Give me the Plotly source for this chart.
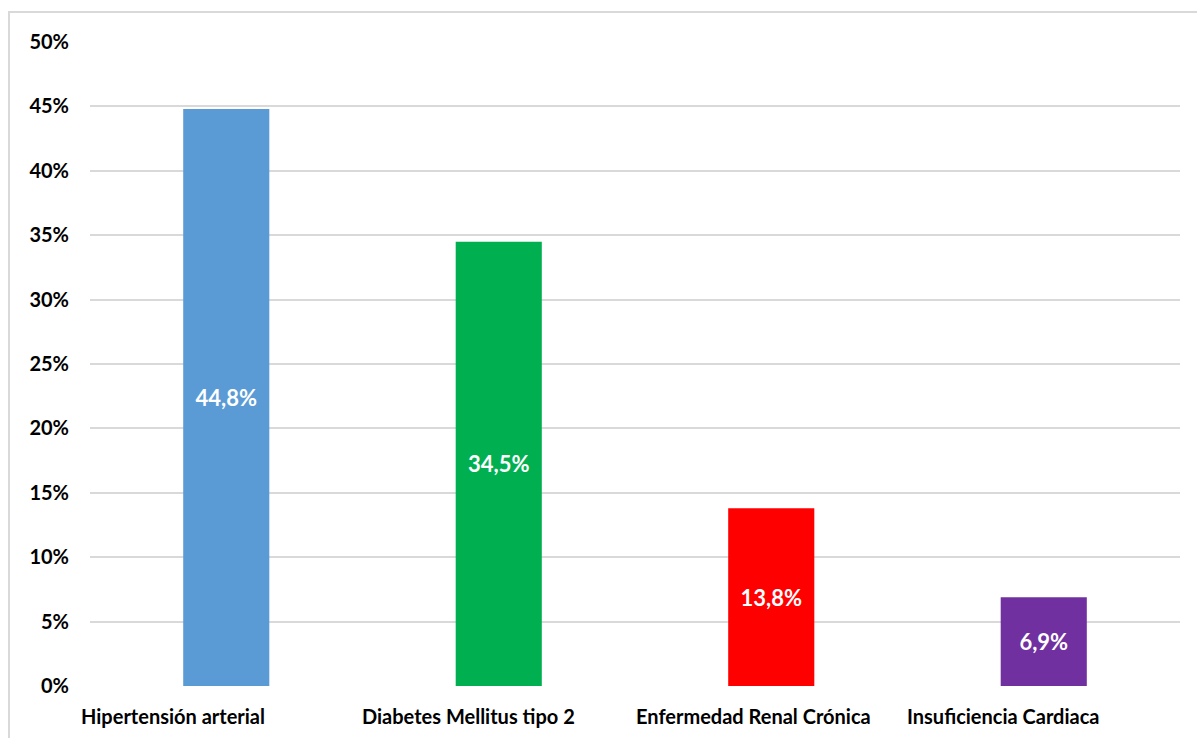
import plotly.graph_objects as go

# Comorbidity prevalence (%)
categories = ["Hipertensión arterial", "Diabetes Mellitus tipo 2",
              "Enfermedad Renal Crónica", "Insuficiencia Cardiaca"]
values = [44.8, 34.5, 13.8, 6.9]
colors = ["#5B9BD5", "#00B050", "#FF0000", "#7030A0"]
y_ticks = [0, 5, 10, 15, 20, 25, 30, 35, 40, 45, 50]
y_tick_labels = [f"{v}%" for v in y_ticks]

FONT = "Lato, 'Open Sans', sans-serif"

labels = [f"{v:.1f}".replace(".", ",") + "%" for v in values]

fig = go.Figure(
    go.Bar(
        x=categories,
        y=values,
        marker=dict(color=colors, line=dict(width=0)),
        text=labels,
        textposition="inside",
        insidetextanchor="middle",
        textangle=0,
        textfont=dict(family=FONT, size=22, color="white", weight="bold"),
        width=0.316,
        hoverinfo="skip",
    )
)

# Category labels, left-aligned near the start of each category band
label_shift = [-147, -139, -137, -139]
for cat, sh in zip(categories, label_shift):
    fig.add_annotation(
        x=cat, y=0, xref="x", yref="y",
        text=f"<b>{cat}</b>", showarrow=False,
        xanchor="left", yanchor="top",
        xshift=sh, yshift=-16,
        font=dict(family=FONT, size=20, color="#000000"),
    )

# Outer frame of the chart area
fig.add_shape(
    type="rect", xref="paper", yref="paper",
    x0=(9 - 90) / 1090, x1=1.2, y0=-0.3, y1=1 + 30 / 644,
    line=dict(color="#d9d9d9", width=2), fillcolor="rgba(0,0,0,0)",
    layer="below",
)

fig.update_layout(
    width=1197, height=738,
    margin=dict(l=90, r=17, t=42, b=52, autoexpand=False),
    paper_bgcolor="white", plot_bgcolor="white",
    showlegend=False,
    bargap=0.684,
    xaxis=dict(
        range=[-0.5, len(categories) - 0.5],
        showticklabels=False, showgrid=False, zeroline=False,
        showline=False, ticks="", automargin=False,
    ),
    yaxis=dict(
        range=[0, 50], tickvals=y_ticks, ticktext=y_tick_labels,
        showgrid=True, gridcolor="#d9d9d9", gridwidth=2,
        zeroline=False, showline=False, ticks="", automargin=False,
        ticklabelstandoff=20,
        tickfont=dict(family=FONT, size=20, color="#000000", weight="bold"),
    ),
)

fig.write_html("out.html")
